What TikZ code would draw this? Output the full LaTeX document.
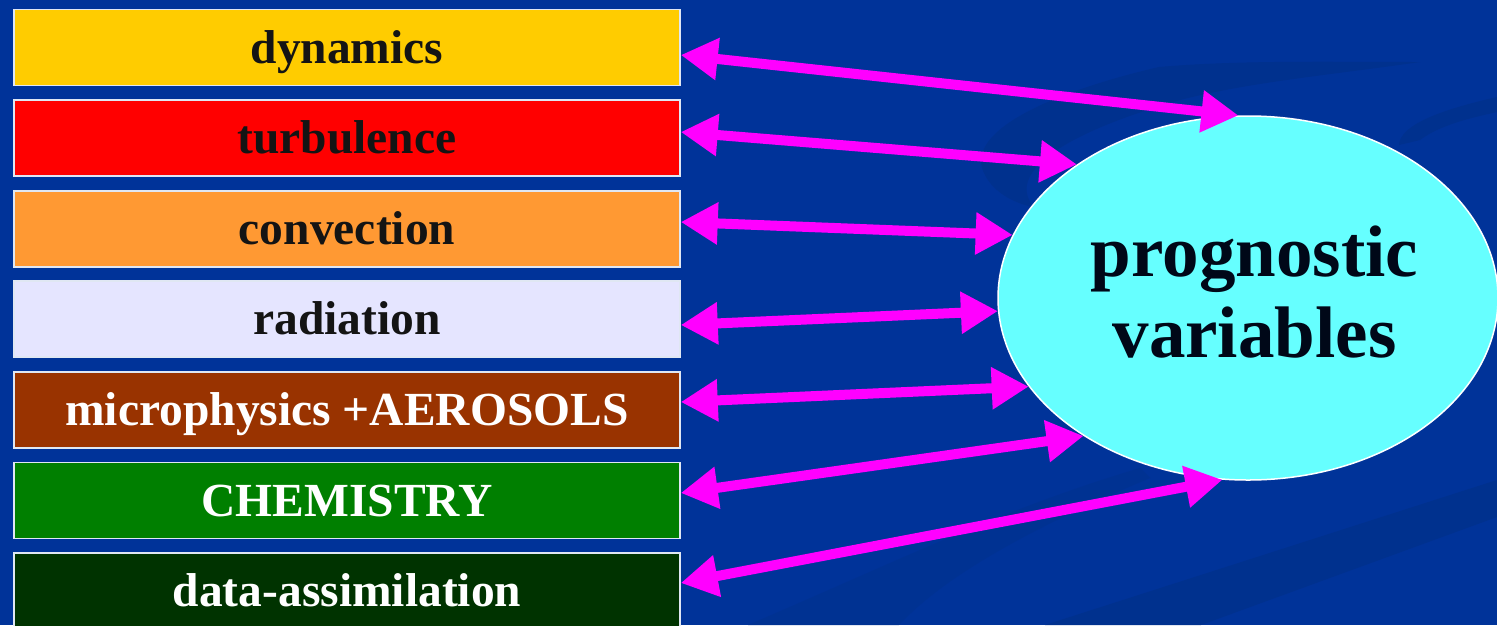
\documentclass[tikz,border=0pt]{standalone}
\usepackage{fontspec}
\setmainfont{Liberation Serif}
\usetikzlibrary{arrows.meta,shapes.geometric}
\definecolor{bg}{HTML}{003399}
\definecolor{swoosh}{HTML}{00318E}
\definecolor{swooshb}{HTML}{003292}
\definecolor{cdyn}{HTML}{FFCC00}
\definecolor{cturb}{HTML}{FF0000}
\definecolor{cconv}{HTML}{FF9933}
\definecolor{crad}{HTML}{E5E5FF}
\definecolor{cmic}{HTML}{993300}
\definecolor{cchem}{HTML}{007F00}
\definecolor{cdata}{HTML}{003300}
\definecolor{cell}{HTML}{66FFFF}
\definecolor{mag}{HTML}{FF00FF}
\definecolor{darktext}{HTML}{141414}
\definecolor{elltext}{HTML}{000818}
\begin{document}
\begin{tikzpicture}[x=1pt,y=-1pt,
  box/.style={draw=white!88!bg,line width=1.5pt,minimum width=666pt,minimum height=76pt,
    inner sep=0pt,text height=40pt,text depth=9pt,font=\fontsize{47.5}{50}\selectfont\bfseries},
  darkbox/.style={box,text=darktext},
  lightbox/.style={box,text=white},
  link/.style={draw=mag,line width=10pt,
    {Triangle[length=37pt,width=40pt]}-{Triangle[length=37pt,width=40pt]}}
]
\useasboundingbox (0,0) rectangle (1497,625);
\clip (0,0) rectangle (1497,625);
\fill[bg] (0,0) rectangle (1497,625);
% faint background swooshes
\fill[swoosh] (1045,625) -- (1497,480) -- (1497,517) -- (1201,625) -- cycle;
\fill[swooshb] (748,625) .. controls (900,560) and (1000,510) .. (1140,468)
  -- (1150,478) .. controls (1050,520) and (950,570) .. (899,625) -- cycle;
\fill[swoosh] (1159,67) .. controls (1060,90) and (960,130) .. (985,175)
  .. controls (995,195) and (1020,205) .. (1034,207)
  .. controls (1010,180) and (1040,140) .. (1180,100)
  .. controls (1250,82) and (1330,75) .. (1420,62)
  .. controls (1330,62) and (1240,60) .. (1159,67) -- cycle;
\fill[swoosh] (1497,97) .. controls (1440,110) and (1400,125) .. (1399,145)
  -- (1420,140) .. controls (1440,125) and (1470,118) .. (1497,112) -- cycle;
% boxes
\node[darkbox,fill=cdyn]   (b1) at (347,47.5)  {dynamics};
\node[darkbox,fill=cturb]  (b2) at (347,138)   {turbulence};
\node[darkbox,fill=cconv]  (b3) at (347,229)   {convection};
\node[darkbox,fill=crad]   (b4) at (347,319)   {radiation};
\node[lightbox,fill=cmic]  (b5) at (347,410)   {microphysics +AEROSOLS};
\node[lightbox,fill=cchem] (b6) at (347,500.5) {CHEMISTRY};
\node[lightbox,fill=cdata] (b7) at (347,591)   {data-assimilation};
% ellipse
\node[ellipse,fill=cell,draw=white,line width=1.5pt,minimum width=500pt,minimum height=364pt,
  inner sep=0pt] (pv) at (1248,298) {};
\node[align=center,text=elltext,inner sep=0pt,font=\fontsize{73}{81}\selectfont\bfseries]
  (pvt) at ([xshift=6.5pt,yshift=5.5pt]pv.center) {prognostic\\variables};
% connectors
\draw[link] ([yshift=-7.5pt]b1.east) -- (pv.93);
\draw[link] ([yshift=6pt]b2.east) -- (pv.142);
\draw[link] ([yshift=7pt]b3.east) -- (pv.165.5);
\draw[link] ([yshift=-6pt]b4.east) -- (pv.183.6);
\draw[link] ([yshift=8pt]b5.east) -- (pv.202);
\draw[link] ([yshift=7.5pt]b6.east) -- (pv.220.5);
\draw[link] ([yshift=8pt]b7.east) -- (pv.262);
\end{tikzpicture}
\end{document}
